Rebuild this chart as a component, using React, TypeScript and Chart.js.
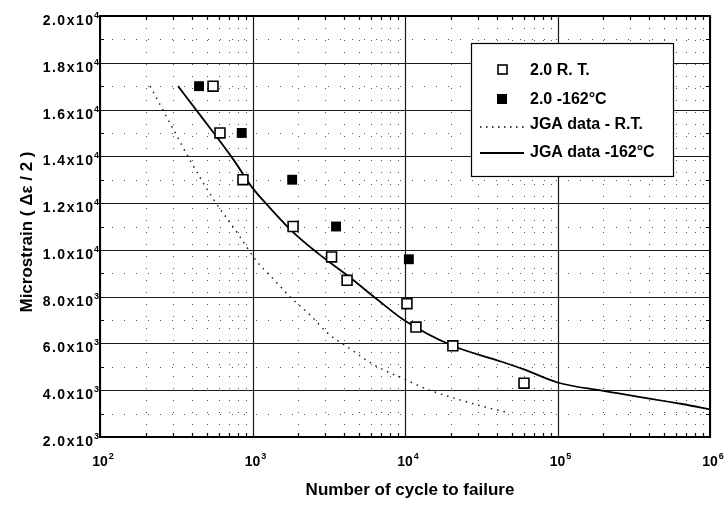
import React, { useEffect, useRef } from "react";
import { Chart, registerables } from "chart.js";

Chart.register(...registerables);

// ---- data ----
const rtCycles = [551, 612, 866, 1845, 3300, 4170, 10300, 11800, 20600, 60300];
const rtStrain = [17000, 15000, 13000, 11000, 9700, 8700, 7700, 6700, 5900, 4300];

const lowCycles = [446, 850, 1820, 3530, 10600];
const lowStrain = [17000, 15000, 13000, 11000, 9600];

const jgaRtCycles = [213, 300, 400, 550, 800, 1070, 1350, 1760, 2400, 3100, 4300, 6200, 10500, 14500, 24000, 35000, 47000];
const jgaRtStrain = [17000, 15200, 13700, 12200, 10700, 9500, 8800, 8000, 7200, 6450, 5800, 5100, 4400, 4000, 3550, 3250, 3050];

const jgaLowCycles = [325, 437, 748, 1000, 1300, 1850, 2690, 4340, 6520, 10000, 20500, 39800, 59700, 100000, 200000, 670000, 1000000];
const jgaLowStrain = [17000, 15900, 13870, 12650, 11800, 10750, 9850, 8830, 7900, 6970, 5900, 5290, 4900, 4330, 3970, 3400, 3180];

const seriesNames = ["2.0 R. T.", "2.0 -162°C", "JGA data - R.T.", "JGA data -162°C"];

const xTickExponents = [2, 3, 4, 5, 6];
const yTickMantissas = ["2.0", "4.0", "6.0", "8.0", "1.0", "1.2", "1.4", "1.6", "1.8", "2.0"];
const yTickExponents = [3, 3, 3, 3, 4, 4, 4, 4, 4, 4];
const yTickValues = [2000, 4000, 6000, 8000, 10000, 12000, 14000, 16000, 18000, 20000];
const yMinorValues = [3000, 5000, 7000, 9000, 11000, 13000, 15000, 17000, 19000];

const xTitle = "Number of cycle to failure";
const yTitle = "Microstrain ( Δε / 2 )";

const FONT = "'Liberation Sans', Arial, Helvetica, sans-serif";

const toXY = (xs: number[], ys: number[]) => xs.map((x, i) => ({ x, y: ys[i] }));

function drawSup(ctx: any, base: string, sup: string, x: number, baseline: number, align: "right" | "center-base", spacing: number) {
  ctx.letterSpacing = `${spacing}px`;
  ctx.font = `bold 14px ${FONT}`;
  const bw = ctx.measureText(base).width - spacing;
  ctx.letterSpacing = "0px";
  ctx.font = `bold 9px ${FONT}`;
  const sw = ctx.measureText(sup).width;
  let left: number;
  if (align === "right") left = x - bw - sw - 1;
  else left = x - bw / 2;
  ctx.textAlign = "left";
  ctx.textBaseline = "alphabetic";
  ctx.letterSpacing = `${spacing}px`;
  ctx.font = `bold 14px ${FONT}`;
  ctx.fillText(base, left, baseline);
  ctx.letterSpacing = "0px";
  ctx.font = `bold 9px ${FONT}`;
  ctx.fillText(sup, left + bw + 1, baseline - 7);
}

const customPlugin = {
  id: "customDeco",
  beforeDatasetsDraw(chart: any) {
    const { ctx, chartArea: a, scales } = chart;
    const xs = scales.x;
    const ys = scales.y;
    ctx.save();
    // minor dotted grid
    ctx.strokeStyle = "#555";
    ctx.lineWidth = 1;
    ctx.setLineDash([1, 11]);
    for (let d = 2; d <= 5; d++) {
      for (let m = 2; m <= 9; m++) {
        const px = Math.round(xs.getPixelForValue(m * Math.pow(10, d))) + 0.5;
        ctx.beginPath();
        ctx.moveTo(px, a.bottom);
        ctx.lineTo(px, a.top);
        ctx.stroke();
      }
    }
    for (const v of yMinorValues) {
      const py = Math.round(ys.getPixelForValue(v)) + 0.5;
      ctx.beginPath();
      ctx.moveTo(a.left, py);
      ctx.lineTo(a.right, py);
      ctx.stroke();
    }
    // major grid
    ctx.setLineDash([]);
    ctx.strokeStyle = "#1a1a1a";
    ctx.lineWidth = 1.2;
    for (const e of xTickExponents) {
      const px = Math.round(xs.getPixelForValue(Math.pow(10, e))) + 0.5;
      ctx.beginPath();
      ctx.moveTo(px, a.bottom);
      ctx.lineTo(px, a.top);
      ctx.stroke();
    }
    for (const v of yTickValues) {
      const py = Math.round(ys.getPixelForValue(v)) + 0.5;
      ctx.beginPath();
      ctx.moveTo(a.left, py);
      ctx.lineTo(a.right, py);
      ctx.stroke();
    }
    // inward minor ticks
    ctx.strokeStyle = "#000";
    ctx.lineWidth = 1.2;
    for (let d = 2; d <= 5; d++) {
      for (let m = 2; m <= 9; m++) {
        const px = Math.round(xs.getPixelForValue(m * Math.pow(10, d))) + 0.5;
        ctx.beginPath();
        ctx.moveTo(px, a.bottom);
        ctx.lineTo(px, a.bottom - 4);
        ctx.moveTo(px, a.top);
        ctx.lineTo(px, a.top + 4);
        ctx.stroke();
      }
    }
    for (const v of yMinorValues) {
      const py = Math.round(ys.getPixelForValue(v)) + 0.5;
      ctx.beginPath();
      ctx.moveTo(a.left, py);
      ctx.lineTo(a.left + 4, py);
      ctx.moveTo(a.right, py);
      ctx.lineTo(a.right - 4, py);
      ctx.stroke();
    }
    ctx.restore();
  },
  afterDraw(chart: any) {
    const { ctx, chartArea: a, scales } = chart;
    const xs = scales.x;
    const ys = scales.y;
    ctx.save();
    // frame
    ctx.strokeStyle = "#000";
    ctx.lineWidth = 2;
    ctx.strokeRect(a.left, a.top, a.right - a.left, a.bottom - a.top);

    ctx.fillStyle = "#000";
    // y tick labels
    yTickValues.forEach((v, i) => {
      const py = ys.getPixelForValue(v);
      drawSup(ctx, `${yTickMantissas[i]}x10`, String(yTickExponents[i]), a.left - 1, py + 9, "right", 1.5);
    });
    // x tick labels
    xTickExponents.forEach((e) => {
      const px = xs.getPixelForValue(Math.pow(10, e));
      drawSup(ctx, "10", String(e), px, 466, "center-base", 0);
    });
    // titles
    ctx.letterSpacing = "0px";
    ctx.font = `bold 17px ${FONT}`;
    ctx.textAlign = "center";
    ctx.textBaseline = "middle";
    ctx.fillText(xTitle, (a.left + a.right) / 2 + 5, 490);
    ctx.save();
    ctx.translate(27, 232);
    ctx.rotate(-Math.PI / 2);
    ctx.fillText(yTitle, 0, 0);
    ctx.restore();

    // legend
    const lx = 471, ly = 43, lw = 202, lh = 133;
    ctx.fillStyle = "#fff";
    ctx.fillRect(lx, ly, lw, lh);
    ctx.strokeStyle = "#000";
    ctx.lineWidth = 1.2;
    ctx.strokeRect(lx + 0.5, ly + 0.5, lw, lh);
    const rows = [70, 99, 124, 152];
    ctx.font = `bold 16px ${FONT}`;
    ctx.textAlign = "left";
    ctx.textBaseline = "middle";
    rows.forEach((ry, i) => {
      ctx.fillStyle = "#000";
      ctx.strokeStyle = "#000";
      if (i === 0) {
        ctx.fillStyle = "#fff";
        ctx.lineWidth = 1.6;
        ctx.fillRect(498, ry - 5, 9, 9);
        ctx.strokeRect(498, ry - 5, 9, 9);
      } else if (i === 1) {
        ctx.fillRect(497, ry - 5, 10, 10);
      } else if (i === 2) {
        ctx.lineWidth = 1.5;
        ctx.setLineDash([1.5, 4.5]);
        ctx.beginPath();
        ctx.moveTo(480, ry + 3);
        ctx.lineTo(524, ry + 3);
        ctx.stroke();
        ctx.setLineDash([]);
      } else {
        ctx.lineWidth = 1.8;
        ctx.beginPath();
        ctx.moveTo(480, ry + 1);
        ctx.lineTo(524, ry + 1);
        ctx.stroke();
      }
      ctx.fillStyle = "#000";
      ctx.fillText(seriesNames[i], 530, ry + 1);
    });
    ctx.restore();
  },
};

export default function App() {
  const canvasRef = useRef<HTMLCanvasElement | null>(null);

  useEffect(() => {
    if (!canvasRef.current) return;
    const chart = new Chart(canvasRef.current, {
      type: "scatter",
      data: {
        datasets: [
          {
            label: seriesNames[0],
            data: toXY(rtCycles, rtStrain),
            pointStyle: "rect",
            radius: 7,
            backgroundColor: "#fff",
            borderColor: "#000",
            borderWidth: 1.6,
            showLine: false,
            order: 0,
          },
          {
            label: seriesNames[1],
            data: toXY(lowCycles, lowStrain),
            pointStyle: "rect",
            radius: 7,
            backgroundColor: "#000",
            borderColor: "#000",
            borderWidth: 0,
            showLine: false,
            order: 1,
          },
          {
            label: seriesNames[2],
            data: toXY(jgaRtCycles, jgaRtStrain),
            showLine: true,
            radius: 0,
            borderColor: "#222",
            borderWidth: 1.5,
            borderDash: [1.5, 5],
            cubicInterpolationMode: "monotone",
            order: 3,
          },
          {
            label: seriesNames[3],
            data: toXY(jgaLowCycles, jgaLowStrain),
            showLine: true,
            radius: 0,
            borderColor: "#000",
            borderWidth: 1.8,
            cubicInterpolationMode: "monotone",
            order: 2,
          },
        ],
      },
      options: {
        animation: false,
        responsive: false,
        maintainAspectRatio: false,
        layout: { padding: { left: 100, right: 16, top: 16, bottom: 69 } },
        plugins: { legend: { display: false }, tooltip: { enabled: false } },
        scales: {
          x: {
            type: "logarithmic",
            min: 100,
            max: 1000000,
            grid: { display: false },
            border: { display: false },
            ticks: { display: false },
            afterFit: (s: any) => { s.height = 0; },
          },
          y: {
            type: "linear",
            min: 2000,
            max: 20000,
            grid: { display: false },
            border: { display: false },
            ticks: { display: false },
            afterFit: (s: any) => { s.width = 0; },
          },
        },
      },
      plugins: [customPlugin],
    });
    return () => chart.destroy();
  }, []);

  return (
    <div style={{ position: "fixed", left: 0, top: 0, width: 726, height: 506, background: "#fff" }}>
      <canvas ref={canvasRef} width={726} height={506} style={{ display: "block" }} />
    </div>
  );
}
